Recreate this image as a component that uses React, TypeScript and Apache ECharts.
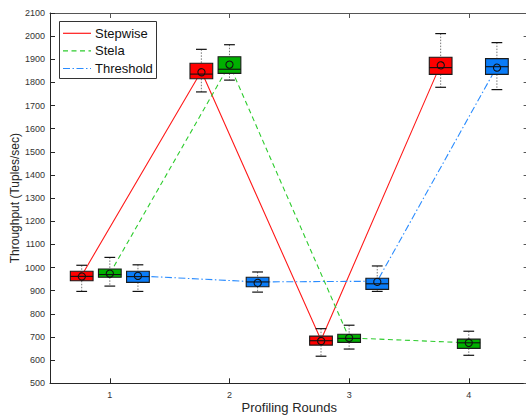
import React, { useEffect, useRef } from "react";
import * as echarts from "echarts";

const rounds = [1, 2, 3, 4];
const seriesNames = ["Stepwise", "Stela", "Threshold"];

const stepwiseMin = [897, 1759, 617, 1779];
const stepwiseQ1 = [943, 1816, 665, 1835];
const stepwiseMedian = [962, 1836, 684, 1864];
const stepwiseQ3 = [984, 1883, 704, 1909];
const stepwiseMax = [1010, 1943, 736, 2011];
const stepwiseMean = [966, 1848, 687, 1878];

const stelaMin = [920, 1810, 648, 621];
const stelaQ1 = [958, 1839, 677, 651];
const stelaMedian = [970, 1857, 694, 675];
const stelaQ3 = [994, 1911, 712, 691];
const stelaMax = [1044, 1963, 751, 725];
const stelaMean = [974, 1877, 696, 675];

const thresholdMin = [897, 894, 897, 1769];
const thresholdQ1 = [936, 917, 906, 1835];
const thresholdMedian = [961, 938, 930, 1868];
const thresholdQ3 = [984, 958, 954, 1903];
const thresholdMax = [1012, 981, 1007, 1972];
const thresholdMean = [964, 938, 941, 1868];

const yTicks = [500, 2100, 100]; // min, max, step
const xTickValues = [1, 2, 3, 4];

const FONT = "'Liberation Sans', Arial, Helvetica, sans-serif";
const OFFSETS = [-0.235, 0, 0.235];
const BOX_FILL = ["#ff0000", "#00b000", "#0a7cf8"];
const LINE_COLOR = ["#ff1a1a", "#2ecc2e", "#2a8cff"];
const LINE_TYPE: any[] = ["solid", [5, 3.5], [7, 2.5, 1.5, 2.5]];

const stats = [
  { min: stepwiseMin, q1: stepwiseQ1, med: stepwiseMedian, q3: stepwiseQ3, max: stepwiseMax, mean: stepwiseMean },
  { min: stelaMin, q1: stelaQ1, med: stelaMedian, q3: stelaQ3, max: stelaMax, mean: stelaMean },
  { min: thresholdMin, q1: thresholdQ1, med: thresholdMedian, q3: thresholdQ3, max: thresholdMax, mean: thresholdMean },
];

export default function App() {
  const ref = useRef<HTMLDivElement>(null);
  useEffect(() => {
    if (!ref.current) return;
    const chart = echarts.init(ref.current, null, { renderer: "svg" });

    const axisColor = "#262626";
    const lineSeries: any[] = stats.map((s, i) => ({
      type: "line",
      name: seriesNames[i],
      xAxisIndex: 0,
      yAxisIndex: 0,
      data: rounds.map((r, k) => [r + OFFSETS[i], s.mean[k]]),
      symbol: "none",
      z: 1,
      lineStyle: { color: LINE_COLOR[i], width: 1.1, type: LINE_TYPE[i] },
      silent: true,
    }));

    const boxSeries: any[] = stats.map((s, i) => ({
      type: "custom",
      name: seriesNames[i] + " box",
      xAxisIndex: 0,
      yAxisIndex: 0,
      z: 3,
      silent: true,
      data: rounds.map((r, k) => [r + OFFSETS[i], s.min[k], s.q1[k], s.med[k], s.q3[k], s.max[k], s.mean[k]]),
      renderItem: (params: any, api: any) => {
        const x = api.value(0);
        const pMin = api.coord([x, api.value(1)]);
        const pQ1 = api.coord([x, api.value(2)]);
        const pMed = api.coord([x, api.value(3)]);
        const pQ3 = api.coord([x, api.value(4)]);
        const pMax = api.coord([x, api.value(5)]);
        const pMean = api.coord([x, api.value(6)]);
        const cx = pMed[0];
        const halfW = api.size([0.19, 0])[0] / 2;
        const capW = api.size([0.09, 0])[0] / 2;
        return {
          type: "group",
          children: [
            { type: "line", shape: { x1: cx, y1: pMax[1], x2: cx, y2: pQ3[1] }, style: { stroke: "#777", lineWidth: 1, lineDash: [1.5, 1.5] } },
            { type: "line", shape: { x1: cx, y1: pQ1[1], x2: cx, y2: pMin[1] }, style: { stroke: "#777", lineWidth: 1, lineDash: [1.5, 1.5] } },
            { type: "line", shape: { x1: cx - capW, y1: pMax[1], x2: cx + capW, y2: pMax[1] }, style: { stroke: "#111", lineWidth: 1.2 } },
            { type: "line", shape: { x1: cx - capW, y1: pMin[1], x2: cx + capW, y2: pMin[1] }, style: { stroke: "#111", lineWidth: 1.2 } },
            { type: "rect", shape: { x: cx - halfW, y: pQ3[1], width: halfW * 2, height: pQ1[1] - pQ3[1] }, style: { fill: BOX_FILL[i], stroke: "#1a1a1a", lineWidth: 1.1 } },
            { type: "line", shape: { x1: cx - halfW, y1: pMed[1], x2: cx + halfW, y2: pMed[1] }, style: { stroke: "#111", lineWidth: 1.1 } },
            { type: "circle", shape: { cx: pMean[0], cy: pMean[1], r: 3.6 }, style: { fill: "none", stroke: "#111", lineWidth: 1.1 } },
          ],
        };
      },
    }));

    const legendTop = 21.5;
    const legendItems = seriesNames.map((n, i) => {
      const y = [33.3, 50.8, 68.5][i];
      return [
        { type: "line", shape: { x1: 63, y1: y, x2: 91, y2: y }, style: { stroke: LINE_COLOR[i], lineWidth: 1.2, lineDash: i === 0 ? null : LINE_TYPE[i] }, z: 101 },
        { type: "text", x: 95, y: y, style: { text: n, fill: "#111", font: `13px ${FONT}`, textVerticalAlign: "middle", verticalAlign: "middle" }, z: 101 },
      ];
    }).flat();

    chart.setOption({
      animation: false,
      textStyle: { fontFamily: FONT },
      grid: { left: 50, top: 13, width: 478.6, height: 370.3, containLabel: false, outerBoundsMode: "none" },
      xAxis: [
        {
          type: "value", min: 0.5, max: 4.5, interval: 0.5, position: "bottom",
          axisLine: { show: true, onZero: false, lineStyle: { color: axisColor, width: 1 } },
          axisTick: { show: true, inside: true, length: 5, customValues: xTickValues, lineStyle: { color: axisColor } },
          axisLabel: {
            customValues: xTickValues, fontSize: 9, color: "#333", margin: 7, fontFamily: FONT,
            formatter: (v: number) => (Number.isInteger(v) ? String(v) : ""),
          },
          splitLine: { show: false },
          name: "Profiling Rounds", nameLocation: "middle", nameGap: 18, nameMoveOverlap: false,
          nameTextStyle: { fontSize: 13, color: "#262626", fontFamily: FONT },
        },
        {
          type: "value", min: 0.5, max: 4.5, interval: 0.5, position: "top",
          axisLine: { show: true, onZero: false, lineStyle: { color: "#555", width: 1 } },
          axisTick: { show: true, inside: true, length: 5, customValues: xTickValues, lineStyle: { color: "#555" } },
          axisLabel: { show: false },
          splitLine: { show: false },
        },
      ],
      yAxis: [
        {
          type: "value", min: yTicks[0], max: yTicks[1], interval: yTicks[2], position: "left",
          axisLine: { show: true, onZero: false, lineStyle: { color: axisColor, width: 1 } },
          axisTick: { show: true, inside: true, length: 5, lineStyle: { color: axisColor } },
          axisLabel: { fontSize: 9, color: "#333", margin: 5, fontFamily: FONT, formatter: (v: number) => String(v) },
          splitLine: { show: false },
          name: "Throughput (Tuples/sec)", nameLocation: "middle", nameGap: 29, nameMoveOverlap: false,
          nameTextStyle: { fontSize: 12, color: "#262626", fontFamily: FONT },
        },
        {
          type: "value", min: yTicks[0], max: yTicks[1], interval: yTicks[2], position: "right",
          axisLine: { show: true, onZero: false, lineStyle: { color: "#555", width: 1 } },
          axisTick: { show: true, inside: true, length: 5, lineStyle: { color: "#555" } },
          axisLabel: { show: false },
          splitLine: { show: false },
        },
      ],
      graphic: [
        { type: "rect", shape: { x: 59.5, y: legendTop, width: 97, height: 57 }, style: { fill: "#fff", stroke: "#333", lineWidth: 1 }, z: 100 },
        ...legendItems,
      ],
      series: [...lineSeries, ...boxSeries],
    });

    return () => chart.dispose();
  }, []);

  return <div ref={ref} style={{ position: "absolute", left: 0, top: 0, width: 526, height: 419 }} />;
}
